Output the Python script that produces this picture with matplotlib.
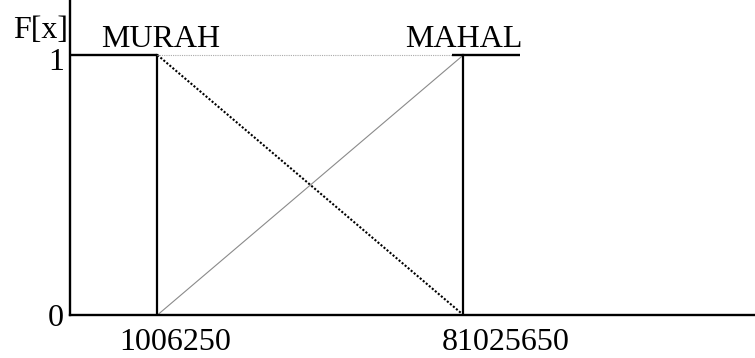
import matplotlib
matplotlib.use('Agg')
import matplotlib.pyplot as plt

# fuzzy set breakpoints (drawn at schematic positions, labelled with the real values)
break_labels = ['1006250', '81025650']
break_pos = [1.0, 4.5]
set_names = ['MURAH', 'MAHAL']
y_levels = [0, 1]

plt.rcParams['font.family'] = ['Liberation Serif', 'DejaVu Serif']
fs = 23

fig = plt.figure(figsize=(7.55, 3.58), dpi=100)
ax = fig.add_axes([70 / 755, 43 / 358, 685 / 755, 315 / 358])
ax.set_xlim(0, 7.835)
ax.set_ylim(0, 1.2115)

a, b = break_pos
lo, hi = y_levels

# MURAH: flat at 1, then falls to 0
ax.plot([0, a], [hi, hi], color='black', lw=1.7, solid_capstyle='butt')
ax.plot([a, a], [lo, hi], color='black', lw=1.6)
ax.plot([a, b], [hi, lo], color='black', lw=1.5, linestyle=(0, (1, 0.9)))

# MAHAL: rises from 0 to 1, then flat
ax.plot([a, b], [lo, hi], color='#8a8a8a', lw=0.8)
ax.plot([b, b], [lo, hi], color='black', lw=1.6)
ax.plot([b - 0.13, b + 0.647], [hi, hi], color='black', lw=1.7, solid_capstyle='butt')

# faint guide at membership 1
ax.plot([a, b - 0.13], [hi, hi], color='#aaaaaa', lw=0.8, linestyle=(0, (1, 1)))

for s in ['top', 'right']:
    ax.spines[s].set_visible(False)
for s in ['left', 'bottom']:
    ax.spines[s].set_linewidth(1.7)

ax.set_xticks([])
ax.set_yticks([])

# membership levels left of the axis
level_offsets = [(-6, -4), (-6, -8)]
for v, off in zip(y_levels, level_offsets):
    ax.annotate(str(v), xy=(0, v), xytext=off, textcoords='offset pixels',
                ha='right', va='center', fontsize=fs, annotation_clip=False)

# breakpoint labels below the axis
label_offsets = [(18, -28), (42, -28)]
for x, lab, off in zip(break_pos, break_labels, label_offsets):
    ax.annotate(lab, xy=(x, 0), xytext=off, textcoords='offset pixels',
                ha='center', va='center', fontsize=fs, annotation_clip=False)

# set names above the plateau
name_offsets = [(3, 15), (0, 15)]
for x, name, off in zip(break_pos, set_names, name_offsets):
    ax.annotate(name, xy=(x, hi), xytext=off, textcoords='offset pixels',
                ha='center', va='center', fontsize=fs, annotation_clip=False)

ax.annotate('F[x]', xy=(0, hi), xytext=(-2, 24), textcoords='offset pixels',
            ha='right', va='center', fontsize=fs, annotation_clip=False)

fig.savefig('out.png', dpi=100)
